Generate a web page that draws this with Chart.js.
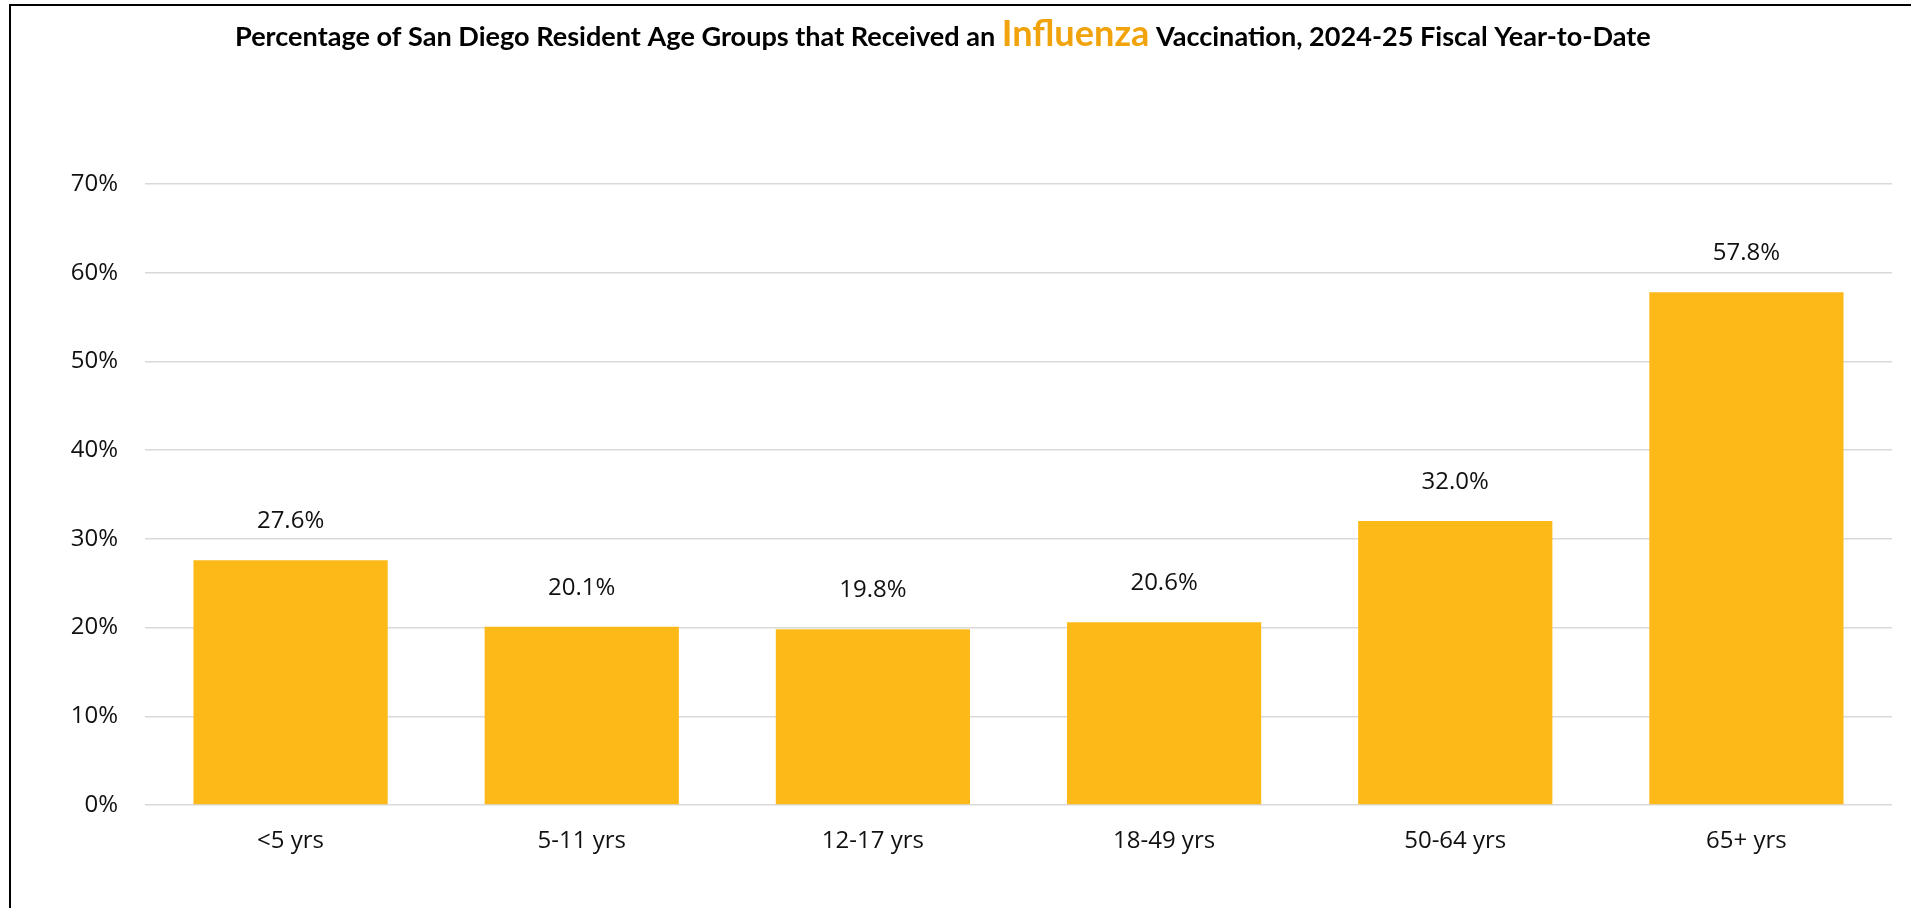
<!DOCTYPE html>
<html><head><meta charset="utf-8">
<script src="https://cdn.jsdelivr.net/npm/chart.js@4.4.1/dist/chart.umd.min.js"></script>
<style>
html,body{margin:0;padding:0;background:#fff;width:1911px;height:908px;overflow:hidden}
#wrap{position:relative;width:1911px;height:908px;background:#fff}
canvas{position:absolute;left:0;top:0}
.frame-top{position:absolute;left:9px;top:4px;width:1902px;height:2px;background:#000}
.frame-left{position:absolute;left:9px;top:4px;width:2px;height:904px;background:#000}
</style></head>
<body><div id="wrap"><canvas id="c" width="1911" height="908"></canvas><div class="frame-top"></div><div class="frame-left"></div></div>
<script>
const categories = ['<5 yrs', '5-11 yrs', '12-17 yrs', '18-49 yrs', '50-64 yrs', '65+ yrs'];
const values = [27.6, 20.1, 19.8, 20.6, 32.0, 57.8];
const yTickValues = [0, 10, 20, 30, 40, 50, 60, 70];
const titleBefore = 'Percentage of San Diego Resident Age Groups that Received an ';
const titleHighlight = 'Influenza';
const titleAfter = ' Vaccination, 2024-25 Fiscal Year-to-Date';

const BAR_COLOR = '#FDB918';
const HIGHLIGHT_COLOR = '#F0A30A';
const TEXT_COLOR = '#111111';
const FONT = "'Open Sans', 'DejaVu Sans', sans-serif";

const titlePlugin = {
  id: 'mixedTitle',
  afterDraw(chart) {
    const ctx = chart.ctx;
    const parts = [
      {t: titleBefore, s: 24, c: '#000'},
      {t: titleHighlight, s: 32, c: HIGHLIGHT_COLOR},
      {t: titleAfter, s: 24, c: '#000'}
    ];
    const fam = "Lato, 'Open Sans', sans-serif";
    ctx.save();
    let total = 0;
    parts.forEach(p => { ctx.font = `bold ${p.s}px ${fam}`; p.w = ctx.measureText(p.t).width; total += p.w; });
    const k = 1416 / total;
    let x = 235;
    ctx.textBaseline = 'alphabetic';
    ctx.textAlign = 'left';
    parts.forEach(p => {
      ctx.font = `bold ${p.s * k}px ${fam}`;
      ctx.fillStyle = p.c;
      ctx.fillText(p.t, x, 46);
      x += ctx.measureText(p.t).width;
    });
    ctx.restore();
  }
};

const valueLabelPlugin = {
  id: 'valueLabels',
  afterDatasetsDraw(chart) {
    const ctx = chart.ctx;
    const meta = chart.getDatasetMeta(0);
    ctx.save();
    ctx.font = `24px ${FONT}`;
    ctx.fillStyle = TEXT_COLOR;
    ctx.textAlign = 'center';
    ctx.textBaseline = 'middle';
    meta.data.forEach((bar, i) => {
      ctx.fillText(values[i].toFixed(1) + '%', bar.x, bar.y - 39);
    });
    ctx.restore();
  }
};

new Chart(document.getElementById('c'), {
  type: 'bar',
  data: {
    labels: categories,
    datasets: [{
      data: values,
      backgroundColor: BAR_COLOR,
      borderWidth: 0,
      categoryPercentage: 1,
      barPercentage: 0.667
    }]
  },
  options: {
    responsive: false,
    animation: false,
    devicePixelRatio: 1,
    layout: {padding: {top: 184, right: 19, left: 0, bottom: 0}},
    plugins: {legend: {display: false}, title: {display: false}, tooltip: {enabled: false}},
    scales: {
      x: {
        grid: {display: false, drawTicks: false},
        border: {display: false},
        ticks: {color: TEXT_COLOR, font: {family: FONT, size: 24}, padding: 22, maxRotation: 0},
        afterFit(s) { s.height = 103; }
      },
      y: {
        min: 0, max: 70,
        afterBuildTicks(s) { s.ticks = yTickValues.map(v => ({value: v})); },
        grid: {color: '#d9d9d9', lineWidth: 1.5, drawTicks: false},
        border: {display: false},
        ticks: {color: TEXT_COLOR, font: {family: FONT, size: 24}, padding: 27, callback: v => v + '%'},
        afterFit(s) { s.width = 145; }
      }
    }
  },
  plugins: [titlePlugin, valueLabelPlugin]
});
</script>
</body></html>
